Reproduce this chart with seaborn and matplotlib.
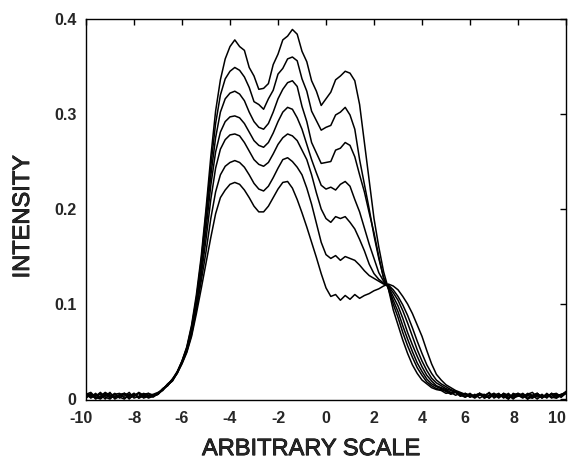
import matplotlib
matplotlib.use("Agg")
import matplotlib.pyplot as plt
import matplotlib.patheffects as pe
import matplotlib.transforms as mtransforms
import seaborn as sns
import pandas as pd

# ---- data ----
x_vals = [-10.0, -9.8, -9.6, -9.4, -9.2, -9.0, -8.8, -8.6, -8.4, -8.2,
          -8.0, -7.8, -7.6, -7.4, -7.2, -7.0, -6.8, -6.6, -6.4, -6.2,
          -6.0, -5.8, -5.6, -5.4, -5.2, -5.0, -4.8, -4.6, -4.4, -4.2,
          -4.0, -3.8, -3.6, -3.4, -3.2, -3.0, -2.8, -2.6, -2.4, -2.2,
          -2.0, -1.8, -1.6, -1.4, -1.2, -1.0, -0.8, -0.6, -0.4, -0.2,
          0.0, 0.2, 0.4, 0.6, 0.8, 1.0, 1.2, 1.4, 1.6, 1.8,
          2.0, 2.2, 2.4, 2.6, 2.8, 3.0, 3.2, 3.4, 3.6, 3.8,
          4.0, 4.2, 4.4, 4.6, 4.8, 5.0, 5.2, 5.4, 5.6, 5.8,
          6.0, 6.2, 6.4, 6.6, 6.8, 7.0, 7.2, 7.4, 7.6, 7.8,
          8.0, 8.2, 8.4, 8.6, 8.8, 9.0, 9.2, 9.4, 9.6, 9.8, 10.0]

curve1 = [0.004, 0.002, 0.006, 0.001, 0.005, 0.003, 0.006, 0.002, 0.000, 0.005, 0.003, 0.006, 0.002, 0.004,
          0.005, 0.007, 0.010, 0.015, 0.021, 0.029, 0.040, 0.055, 0.078, 0.110,
          0.150, 0.200, 0.255, 0.303, 0.336, 0.358, 0.371, 0.378, 0.371, 0.367,
          0.349, 0.340, 0.326, 0.327, 0.332, 0.352, 0.363, 0.378, 0.382, 0.389,
          0.384, 0.366, 0.355, 0.335, 0.324, 0.309, 0.316, 0.323, 0.336, 0.340,
          0.345, 0.343, 0.335, 0.310, 0.270, 0.230, 0.190, 0.160, 0.134, 0.116,
          0.094, 0.078, 0.062, 0.048, 0.036, 0.027, 0.020, 0.016, 0.012, 0.010,
          0.009, 0.006, 0.007, 0.004, 0.006, 0.002, 0.005, 0.003, 0.006, 0.001,
          0.004, 0.006, 0.002, 0.005, 0.001, 0.004, 0.006, 0.002, 0.005, 0.003,
          0.006, 0.001, 0.004, 0.003, 0.005, 0.004, 0.008]

curve2 = [0.001, 0.005, 0.003, 0.007, 0.002, 0.000, 0.005, 0.001, 0.006, 0.003, 0.006, 0.001, 0.005, 0.006,
          0.004, 0.006, 0.010, 0.016, 0.020, 0.028, 0.040, 0.054, 0.076, 0.106,
          0.146, 0.195, 0.245, 0.290, 0.320, 0.337, 0.345, 0.349, 0.346, 0.339,
          0.328, 0.313, 0.310, 0.305, 0.316, 0.325, 0.342, 0.348, 0.358, 0.360,
          0.356, 0.337, 0.324, 0.303, 0.293, 0.283, 0.286, 0.288, 0.299, 0.302,
          0.307, 0.299, 0.284, 0.252, 0.226, 0.200, 0.172, 0.148, 0.128, 0.116,
          0.100, 0.086, 0.070, 0.056, 0.044, 0.033, 0.025, 0.018, 0.014, 0.011,
          0.010, 0.008, 0.005, 0.007, 0.003, 0.006, 0.002, 0.005, 0.001, 0.004,
          0.006, 0.002, 0.005, 0.003, 0.000, 0.006, 0.004, 0.001, 0.005, 0.007,
          0.002, 0.005, 0.001, 0.006, 0.003, 0.005, 0.007]

curve3 = [0.003, 0.006, 0.000, 0.003, 0.007, 0.004, 0.001, 0.005, 0.006, 0.001, 0.003, 0.007, 0.004, 0.002,
          0.003, 0.005, 0.011, 0.014, 0.020, 0.028, 0.039, 0.053, 0.074, 0.103,
          0.142, 0.188, 0.235, 0.275, 0.302, 0.316, 0.322, 0.324, 0.321, 0.314,
          0.302, 0.292, 0.286, 0.284, 0.290, 0.302, 0.316, 0.326, 0.333, 0.335,
          0.329, 0.308, 0.292, 0.270, 0.259, 0.248, 0.249, 0.250, 0.262, 0.264,
          0.270, 0.267, 0.255, 0.236, 0.218, 0.196, 0.175, 0.150, 0.127, 0.117,
          0.104, 0.092, 0.077, 0.063, 0.050, 0.038, 0.029, 0.021, 0.016, 0.013,
          0.011, 0.009, 0.006, 0.008, 0.003, 0.006, 0.004, 0.001, 0.005, 0.003,
          0.007, 0.001, 0.004, 0.002, 0.006, 0.001, 0.003, 0.005, 0.000, 0.004,
          0.006, 0.002, 0.005, 0.001, 0.004, 0.002, 0.006]

curve4 = [0.006, 0.001, 0.004, 0.005, 0.000, 0.006, 0.002, 0.004, 0.003, 0.007, 0.001, 0.003, 0.006, 0.004,
          0.002, 0.006, 0.009, 0.015, 0.021, 0.027, 0.039, 0.052, 0.072, 0.100,
          0.136, 0.178, 0.225, 0.260, 0.281, 0.292, 0.297, 0.298, 0.296, 0.290,
          0.281, 0.272, 0.267, 0.265, 0.270, 0.280, 0.292, 0.302, 0.307, 0.305,
          0.296, 0.284, 0.268, 0.252, 0.238, 0.225, 0.221, 0.223, 0.220, 0.226,
          0.229, 0.224, 0.210, 0.197, 0.180, 0.163, 0.148, 0.133, 0.124, 0.118,
          0.108, 0.098, 0.085, 0.070, 0.057, 0.045, 0.034, 0.025, 0.019, 0.014,
          0.012, 0.010, 0.007, 0.008, 0.004, 0.002, 0.005, 0.002, 0.006, 0.001,
          0.004, 0.005, 0.001, 0.006, 0.002, 0.003, 0.006, 0.004, 0.000, 0.003,
          0.005, 0.001, 0.006, 0.002, 0.001, 0.005, 0.006]

curve5 = [0.002, 0.004, 0.001, 0.006, 0.003, 0.007, 0.000, 0.003, 0.006, 0.004, 0.005, 0.001, 0.003, 0.006,
          0.003, 0.005, 0.010, 0.015, 0.019, 0.028, 0.038, 0.051, 0.070, 0.097,
          0.130, 0.168, 0.210, 0.243, 0.263, 0.273, 0.278, 0.279, 0.277, 0.270,
          0.261, 0.252, 0.247, 0.245, 0.249, 0.258, 0.268, 0.275, 0.279, 0.277,
          0.272, 0.262, 0.252, 0.236, 0.217, 0.200, 0.190, 0.186, 0.192, 0.190,
          0.192, 0.186, 0.179, 0.168, 0.156, 0.142, 0.132, 0.126, 0.122, 0.119,
          0.112, 0.104, 0.093, 0.080, 0.066, 0.052, 0.040, 0.030, 0.022, 0.017,
          0.014, 0.011, 0.009, 0.007, 0.005, 0.003, 0.006, 0.002, 0.004, 0.005,
          0.001, 0.006, 0.002, 0.004, 0.000, 0.005, 0.003, 0.006, 0.002, 0.001,
          0.004, 0.003, 0.002, 0.006, 0.003, 0.004, 0.007]

curve6 = [0.005, 0.007, 0.002, 0.000, 0.004, 0.002, 0.005, 0.006, 0.001, 0.003, 0.004, 0.006, 0.001, 0.003,
          0.004, 0.005, 0.010, 0.014, 0.020, 0.028, 0.038, 0.050, 0.068, 0.094,
          0.124, 0.155, 0.190, 0.218, 0.236, 0.245, 0.249, 0.251, 0.249, 0.244,
          0.236, 0.227, 0.221, 0.219, 0.224, 0.233, 0.243, 0.252, 0.254, 0.250,
          0.244, 0.236, 0.222, 0.205, 0.185, 0.165, 0.152, 0.148, 0.151, 0.146,
          0.150, 0.148, 0.146, 0.141, 0.135, 0.130, 0.127, 0.124, 0.121, 0.120,
          0.115, 0.108, 0.099, 0.088, 0.075, 0.061, 0.048, 0.036, 0.027, 0.020,
          0.016, 0.013, 0.010, 0.008, 0.006, 0.005, 0.002, 0.004, 0.006, 0.002,
          0.002, 0.004, 0.006, 0.001, 0.005, 0.002, 0.004, 0.002, 0.006, 0.004,
          0.000, 0.004, 0.002, 0.005, 0.006, 0.002, 0.008]

curve7 = [0.006, 0.003, 0.005, 0.002, 0.006, 0.001, 0.003, 0.004, 0.005, 0.000, 0.006, 0.002, 0.005, 0.001,
          0.003, 0.006, 0.011, 0.015, 0.019, 0.027, 0.037, 0.049, 0.066, 0.090,
          0.116, 0.143, 0.170, 0.195, 0.212, 0.220, 0.226, 0.228, 0.226, 0.220,
          0.212, 0.203, 0.197, 0.197, 0.203, 0.212, 0.221, 0.228, 0.229, 0.222,
          0.210, 0.196, 0.181, 0.165, 0.149, 0.132, 0.117, 0.108, 0.110, 0.104,
          0.109, 0.105, 0.110, 0.106, 0.109, 0.111, 0.114, 0.116, 0.119, 0.121,
          0.119, 0.115, 0.108, 0.100, 0.090, 0.078, 0.066, 0.051, 0.037, 0.026,
          0.020, 0.015, 0.012, 0.009, 0.007, 0.005, 0.004, 0.002, 0.006, 0.004,
          0.001, 0.005, 0.002, 0.006, 0.004, 0.000, 0.005, 0.002, 0.004, 0.001,
          0.006, 0.002, 0.004, 0.005, 0.001, 0.004, 0.006]

curves = [curve1, curve2, curve3, curve4, curve5, curve6, curve7]
x_ticks = [-10, -8, -6, -4, -2, 0, 2, 4, 6, 8, 10]
x_tick_labels = ["-10", "-8", "-6", "-4", "-2", "0", "2", "4", "6", "8", "10"]
y_ticks = [0, 0.1, 0.2, 0.3, 0.4]
y_tick_labels = ["0", "0.1", "0.2", "0.3", "0.4"]

for c in curves:
    assert len(c) == len(x_vals), len(c)

rows = []
for i, c in enumerate(curves):
    for xv, yv in zip(x_vals, c):
        rows.append({"x": xv, "y": yv, "curve": f"c{i+1}"})
df = pd.DataFrame(rows)

sns.set_style("white")
plt.rcParams["font.family"] = ["Liberation Sans", "DejaVu Sans"]

fig = plt.figure(figsize=(5.68, 4.62), dpi=100)
ax = fig.add_axes([86 / 568, 1 - 400 / 462, 480 / 568, 381 / 462])

sns.lineplot(data=df, x="x", y="y", units="curve", estimator=None,
             color="black", linewidth=1.1, sort=False, legend=False, ax=ax)

ax.set_xlim(-10, 10)
ax.set_ylim(-0.001, 0.4)
ax.set_xticks(x_ticks)
ax.set_xticklabels(x_tick_labels)
ax.set_yticks(y_ticks)
ax.set_yticklabels(y_tick_labels)

for sp in ax.spines.values():
    sp.set_visible(True)
    sp.set_color("black")
    sp.set_linewidth(1.0)

ax.tick_params(axis="both", direction="in", length=4, width=1.0, color="black",
               top=True, right=True, labelsize=11.5)
ax.tick_params(axis="x", pad=8)
ax.tick_params(axis="y", pad=7)
for lab in ax.get_xticklabels() + ax.get_yticklabels():
    lab.set_fontweight("bold")

# keep the right-most x label inside the figure, as in the reference
xl = ax.get_xticklabels()
xl[-1].set_transform(xl[-1].get_transform() +
                     mtransforms.ScaledTranslation(-9 / 100, 0, fig.dpi_scale_trans))
xl[-2].set_transform(xl[-2].get_transform() +
                     mtransforms.ScaledTranslation(-4 / 100, 0, fig.dpi_scale_trans))
xl[-3].set_transform(xl[-3].get_transform() +
                     mtransforms.ScaledTranslation(-5 / 100, 0, fig.dpi_scale_trans))
xl[0].set_transform(xl[0].get_transform() +
                    mtransforms.ScaledTranslation(-5 / 100, 0, fig.dpi_scale_trans))

stroke = [pe.withStroke(linewidth=0.6, foreground="black")]
ax.set_xlabel("ARBITRARY SCALE", fontsize=17, path_effects=stroke)
ax.set_ylabel("INTENSITY", fontsize=17, path_effects=stroke)
ax.xaxis.set_label_coords((311 - 86) / 480, -0.1)
ax.yaxis.label.set_va("center")
ax.yaxis.set_label_coords((23 - 86) / 480, (400 - 217) / 381)

fig.savefig("out.png", dpi=100, facecolor="white")
